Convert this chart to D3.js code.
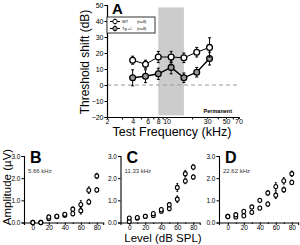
<!DOCTYPE html>
<html><head><meta charset="utf-8">
<script src="https://cdn.jsdelivr.net/npm/d3@7"></script>
<style>
body{margin:0;background:#fff;}
svg{display:block;font-family:"Liberation Sans",Arial,sans-serif;}
</style></head>
<body><svg id="c" width="300" height="245"></svg>
<script>
// Panel A data
const freqs = [4, 5.66, 8, 11.33, 16, 22.62, 32];
const wtShift = [15.5, 13, 17.5, 17.5, 17, 20.5, 23.5];
const wtErr = [2.5, 2.5, 3.5, 3.5, 3, 3, 6];
const tgShift = [4.5, 5.5, 7, 11, 4.5, 8, 16.5];
const tgErr = [5, 4, 3.5, 4, 3, 3, 4];
const aYTicks = [-20, -10, 0, 10, 20, 30, 40, 50];
const aXLabels = [2, 4, 6, 8, 10, 30, 50, 70];
const aXMinor = [3, 5, 7, 9, 20, 40, 60];
const band = [8, 16];
// Bottom panels data
const levels = [0, 10, 20, 30, 40, 50, 60, 70, 80];
const bLow = [0, 0, 0.18, 0.27, 0.33, 0.4, 0.53, 0.93, 1.47];
const bHigh = [0, 0, 0.25, 0.28, 0.37, 0.6, 0.81, 1.46, 2.1];
const cLow = [0.05, 0.2, 0.28, 0.32, 0.51, 0.63, 1.05, 1.87, 2.05];
const cHigh = [0.2, 0.22, 0.28, 0.4, 0.58, 0.8, 1.58, 2.2, 2.5];
const dLow = [0.27, 0.25, 0.3, 0.46, 0.65, 0.83, 1.23, 1.48, 1.81];
const dHigh = [0.27, 0.35, 0.5, 0.7, 1.0, 1.33, 1.62, 1.88, 2.2];
const lowErr = [0.03, 0.05, 0.06, 0.06, 0.08, 0.1, 0.15, 0.12, 0.1];
const highErr = [0.03, 0.05, 0.06, 0.06, 0.08, 0.1, 0.18, 0.15, 0.12];
const panels = [
  {letter: "B", label: "5.66 kHz", low: bLow, high: bHigh},
  {letter: "C", label: "11.33 kHz", low: cLow, high: cHigh},
  {letter: "D", label: "22.62 kHz", low: dLow, high: dHigh}
];
const bYTicks = [0, 1, 2, 3];
const bXLabels = [0, 20, 40, 60, 80];
const bXMinor = [10, 30, 50, 70];

const svg = d3.select("#c");

// ---------- Panel A ----------
const xA = d3.scaleLog().domain([2, 70]).range([107, 238.5]);
const yA = d3.scaleLinear().domain([-20, 50]).range([117, 5]);
const gA = svg.append("g");

gA.append("rect").attr("x", xA(band[0])).attr("width", xA(band[1]) - xA(band[0]))
  .attr("y", yA(48.5)).attr("height", yA(-19) - yA(48.5)).attr("fill", "#cccccc");

gA.append("line").attr("x1", xA(2)).attr("x2", xA(70)).attr("y1", yA(0)).attr("y2", yA(0))
  .attr("stroke", "#999").attr("stroke-width", 1).attr("stroke-dasharray", "4,3");

const axYA = d3.axisLeft(yA).tickValues(aYTicks).tickSize(2.5).tickPadding(1);
const gy = gA.append("g").attr("transform", "translate(107,0)").call(axYA);
const axXA = d3.axisBottom(xA).tickValues(aXLabels).tickFormat(d3.format("d")).tickSize(2).tickPadding(0.5);
const gx = gA.append("g").attr("transform", "translate(0,117)").call(axXA);
const gxm = gA.append("g").attr("transform", "translate(0,117)")
  .call(d3.axisBottom(xA).tickValues(aXMinor).tickFormat("").tickSize(2.5));
gxm.select(".domain").remove();
[gy, gx, gxm].forEach(g => {
  g.select(".domain").attr("stroke", "#000").attr("stroke-width", 1.2);
  g.selectAll("line").attr("stroke", "#000").attr("stroke-width", 1);
  g.selectAll("text").attr("font-size", 7).attr("fill", "#000")
    .attr("font-family", "Liberation Sans, Arial, sans-serif");
});

function drawSeries(g, vals, errs, fill, lw) {
  const pts = freqs.map((f, i) => [xA(f), yA(vals[i]), yA(vals[i] + errs[i]), yA(vals[i] - errs[i])]);
  g.append("path").attr("d", d3.line()(pts.map(p => [p[0], p[1]])))
    .attr("fill", "none").attr("stroke", "#000").attr("stroke-width", lw);
  pts.forEach(p => {
    g.append("line").attr("x1", p[0]).attr("x2", p[0]).attr("y1", p[2]).attr("y2", p[3])
      .attr("stroke", "#000").attr("stroke-width", 1);
    [p[2], p[3]].forEach(y => g.append("line").attr("x1", p[0] - 1.5).attr("x2", p[0] + 1.5)
      .attr("y1", y).attr("y2", y).attr("stroke", "#000").attr("stroke-width", 1));
  });
  pts.forEach(p => g.append("circle").attr("cx", p[0]).attr("cy", p[1]).attr("r", 2.9)
    .attr("fill", fill).attr("stroke", "#000").attr("stroke-width", 1.3));
}
drawSeries(gA, tgShift, tgErr, "#9a9a9a", 1.4);
drawSeries(gA, wtShift, wtErr, "#ffffff", 1);

// legend
gA.append("rect").attr("x", 107).attr("y", 17).attr("width", 48).attr("height", 16)
  .attr("fill", "#fff").attr("stroke", "#333").attr("stroke-width", 1);
[["WT", "#fff", 21.5], ["Tg +/-", "#9a9a9a", 28.5]].forEach(r => {
  gA.append("line").attr("x1", 110).attr("x2", 120).attr("y1", r[2]).attr("y2", r[2])
    .attr("stroke", "#000").attr("stroke-width", 1);
  gA.append("line").attr("x1", 115).attr("x2", 115).attr("y1", r[2] - 3).attr("y2", r[2] + 3)
    .attr("stroke", "#000").attr("stroke-width", 0.8);
  gA.append("circle").attr("cx", 115).attr("cy", r[2]).attr("r", 2.2)
    .attr("fill", r[1]).attr("stroke", "#000").attr("stroke-width", 1);
  gA.append("text").attr("x", 122).attr("y", r[2] + 1.5).attr("font-size", 4).text(r[0]);
  gA.append("text").attr("x", 137).attr("y", r[2] + 1.5).attr("font-size", 4).text("(n=8)");
});

gA.append("text").attr("x", 112).attr("y", 13.5).attr("font-size", 15).attr("font-weight", "bold").text("A");
gA.append("text").attr("x", 232).attr("y", 113).attr("text-anchor", "end").attr("font-size", 5.5)
  .attr("font-weight", "bold").text("Permanent");
gA.append("text").attr("x", 172).attr("y", 136).attr("text-anchor", "middle").attr("font-size", 12.5)
  .text("Test Frequency (kHz)");
gA.append("text").attr("transform", "translate(89,62) rotate(-90)").attr("text-anchor", "middle")
  .attr("font-size", 12).text("Threshold shift (dB)");

// ---------- Bottom panels ----------
const x0s = [24, 120.5, 219];
const yB = d3.scaleLinear().domain([0, 3]).range([222.5, 156]);
panels.forEach((p, k) => {
  const x0 = x0s[k];
  const xB = d3.scaleLinear().domain([-11, 88]).range([x0, x0 + 79.2]);
  const g = svg.append("g");
  const ay = g.append("g").attr("transform", `translate(${x0},0)`)
    .call(d3.axisLeft(yB).tickValues(bYTicks).tickSize(2.5).tickPadding(1));
  const ax = g.append("g").attr("transform", `translate(0,${yB(0)})`)
    .call(d3.axisBottom(xB).tickValues(bXLabels).tickSize(2.5).tickPadding(0.5));
  const axm = g.append("g").attr("transform", `translate(0,${yB(0)})`)
    .call(d3.axisBottom(xB).tickValues(bXMinor).tickFormat("").tickSize(1.5));
  axm.select(".domain").remove();
  [ay, ax, axm].forEach(a => {
    a.select(".domain").attr("stroke", "#000").attr("stroke-width", 1.1);
    a.selectAll("line").attr("stroke", "#000").attr("stroke-width", 1);
    a.selectAll("text").attr("font-size", 6.5).attr("fill", "#000")
      .attr("font-family", "Liberation Sans, Arial, sans-serif");
  });
  [[p.low, lowErr], [p.high, highErr]].forEach(s => {
    levels.forEach((l, i) => {
      const cx = xB(l), v = s[0][i], e = s[1][i];
      g.append("line").attr("x1", cx).attr("x2", cx).attr("y1", yB(v + e)).attr("y2", yB(v - e))
        .attr("stroke", "#000").attr("stroke-width", 1);
      [v + e, v - e].forEach(y => g.append("line").attr("x1", cx - 1).attr("x2", cx + 1)
        .attr("y1", yB(y)).attr("y2", yB(y)).attr("stroke", "#000").attr("stroke-width", 0.8));
    });
  });
  [p.low, p.high].forEach(s => {
    levels.forEach((l, i) => g.append("ellipse").attr("cx", xB(l)).attr("cy", yB(s[i]))
      .attr("rx", 1.9).attr("ry", 2.1).attr("fill", "#fff").attr("stroke", "#000").attr("stroke-width", 1.1));
  });
  g.append("text").attr("x", x0 + 6).attr("y", 163.3).attr("font-size", 16).attr("font-weight", "bold").text(p.letter);
  g.append("text").attr("x", x0 + 4).attr("y", 172.5).attr("font-size", 6).attr("fill", "#333").text(p.label);
});
svg.append("text").attr("x", 163).attr("y", 241.5).attr("text-anchor", "middle").attr("font-size", 11.5)
  .text("Level (dB SPL)");
svg.append("text").attr("transform", "translate(10.5,187) rotate(-90)").attr("text-anchor", "middle")
  .attr("font-size", 11.5).text("Amplitude (µV)");
</script></body></html>
